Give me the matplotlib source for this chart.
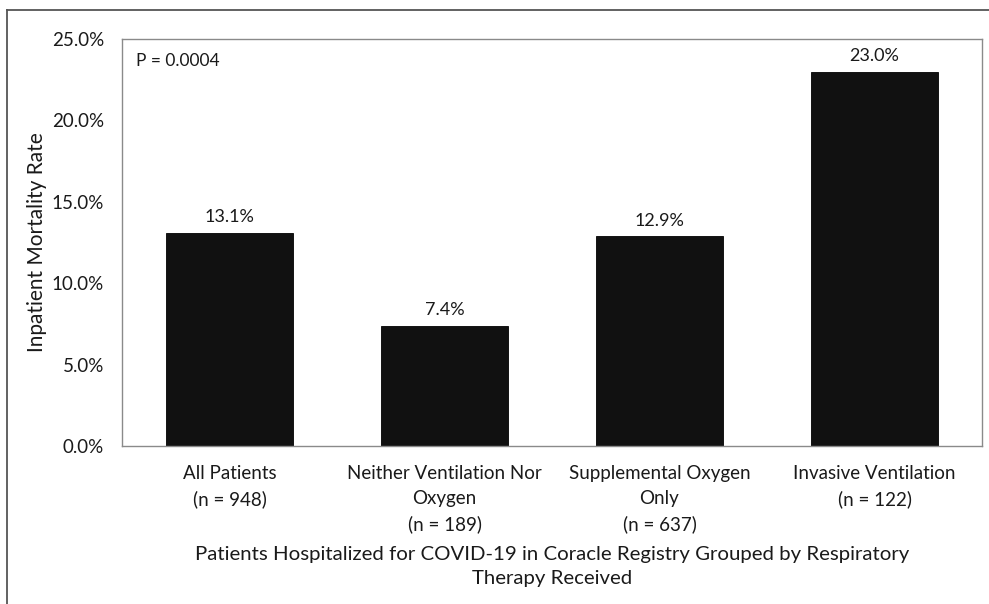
import matplotlib
matplotlib.use("Agg")
import matplotlib.pyplot as plt
from matplotlib.lines import Line2D

categories = ["All Patients\n(n = 948)",
              "Neither Ventilation Nor\nOxygen\n(n = 189)",
              "Supplemental Oxygen\nOnly\n(n = 637)",
              "Invasive Ventilation\n(n = 122)"]
rates = [13.1, 7.4, 12.9, 23.0]
yticks = [0, 5, 10, 15, 20, 25]

plt.rcParams['font.family'] = ['Lato', 'DejaVu Sans']

W, H = 989, 604
fig = plt.figure(figsize=(W/100, H/100), dpi=100)
ax = fig.add_axes([122/W, 1-446/H, (982-122)/W, (446-39)/H])

x = list(range(len(categories)))
ax.bar(x, rates, width=0.59, color='#111111', edgecolor='#000000', linewidth=0.6)
for xi, v in zip(x, rates):
    ax.text(xi, v + 0.45, f"{v:.1f}%", ha='center', va='bottom', fontsize=13, color='#1a1a1a')

ax.set_xlim(-0.5, 3.5)
ax.set_ylim(0, 25)
ax.set_yticks(yticks)
ax.set_yticklabels([f"{t:.1f}%" for t in yticks], fontsize=13.5, color='#1a1a1a')
ax.set_xticks(x)
ax.set_xticklabels(categories, fontsize=13.5, color='#1a1a1a', linespacing=1.55)
ax.tick_params(axis='both', length=0)
ax.tick_params(axis='y', pad=13)
ax.tick_params(axis='x', pad=14)
for s in ax.spines.values():
    s.set_color('#8a8a8a')
    s.set_linewidth(1.0)

ax.set_ylabel("Inpatient Mortality Rate", fontsize=15, color='#1a1a1a', labelpad=3)
ax.set_xlabel("Patients Hospitalized for COVID-19 in Coracle Registry Grouped by Respiratory\nTherapy Received",
              fontsize=14.7, color='#1a1a1a', linespacing=1.5, labelpad=9)

ax.text(0.016, 0.945, "P = 0.0004", transform=ax.transAxes, fontsize=12.5,
        ha='left', va='center', color='#1a1a1a')

# outer frame lines (top and left)
fig.add_artist(Line2D([7/W, 1], [1-10/H, 1-10/H], transform=fig.transFigure, color='#555555', lw=1.3))
fig.add_artist(Line2D([7/W, 7/W], [0, 1-10/H], transform=fig.transFigure, color='#555555', lw=1.3))

fig.savefig("out.png", dpi=100, facecolor='white')
